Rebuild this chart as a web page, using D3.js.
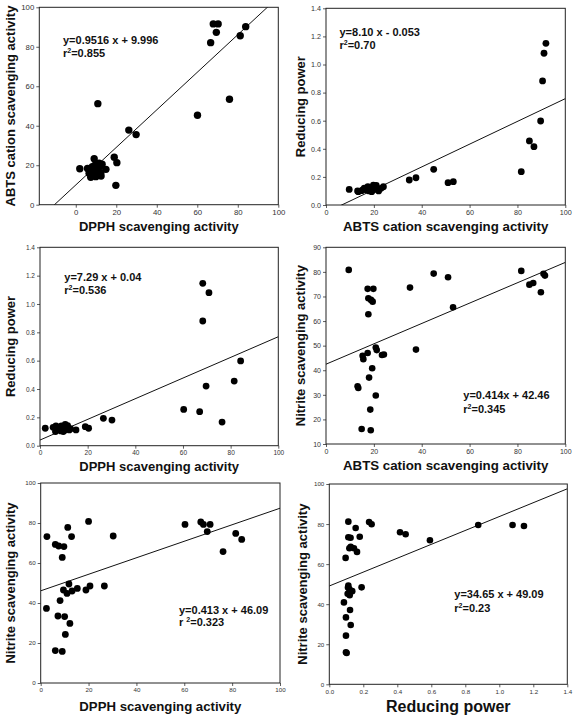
<!DOCTYPE html>
<html>
<head>
<meta charset="utf-8">
<script src="https://cdn.jsdelivr.net/npm/d3@7"></script>
<style>
  body { margin: 0; background: #fff; }
  svg { display: block; }
</style>
</head>
<body>
<svg id="chart" width="580" height="716"></svg>
<script>
// ---------------- DATA ----------------
// Panel 1: DPPH (x) vs ABTS cation scavenging (y)
const dpphVsAbts = [
  [2.0,18.2],[10.9,51.2],[26.2,37.8],[29.8,35.5],[19.0,24.0],[20.3,21.3],[19.8,9.8],
  [9.1,23.3],[6.6,15.9],[7.4,13.9],[9.9,14.2],[11.5,21.0],[12.4,16.2],[14.9,17.9],
  [8.2,19.3],[5.8,18.4],[10.5,18.5],[12.0,19.5],[8.0,17.0],[11.0,16.5],[13.0,20.5],
  [9.5,20.0],[7.0,18.0],[12.5,14.5],[10.0,15.5],
  [60.1,45.3],[75.9,53.4],[66.6,82.1],[67.9,91.6],[70.3,91.6],[69.4,87.3],[81.2,85.6],[83.9,90.2]
];
// Panel 2: ABTS (x) vs Reducing power (y)
const abtsVsRp = [
  [9.7,0.111],[13.5,0.095],[14.9,0.102],[17.0,0.107],[18.4,0.119],[19.8,0.142],[19.1,0.095],
  [21.2,0.111],[23.0,0.119],[24.0,0.13],[20.5,0.13],[16.0,0.12],[18.0,0.10],[20.0,0.12],
  [22.0,0.10],[17.5,0.13],[19.5,0.11],[21.0,0.14],[15.5,0.11],[13.2,0.10],
  [34.8,0.178],[37.6,0.194],[45.0,0.254],[51.0,0.159],[53.2,0.166],
  [81.6,0.237],[85.0,0.456],[86.9,0.415],[89.7,0.598],[90.5,0.883],[91.1,1.080],[91.9,1.151]
];
// Panel 3: DPPH (x) vs Reducing power (y)
const dpphVsRp = [
  [2.2,0.123],[6.7,0.139],[8.1,0.111],[9.5,0.123],[10.6,0.151],[11.6,0.141],[12.3,0.111],
  [8.8,0.104],[15.1,0.111],[19.0,0.134],[20.4,0.123],[5.5,0.13],[7.5,0.12],[9.0,0.14],
  [10.5,0.11],[11.0,0.13],[12.8,0.12],[6.5,0.10],[9.8,0.10],
  [26.6,0.193],[30.2,0.181],[60.3,0.256],[67.0,0.240],[76.4,0.167],[69.7,0.421],
  [81.5,0.456],[84.2,0.598],[68.3,0.880],[70.9,1.080],[68.3,1.146]
];
// Panel 4: ABTS (x) vs Nitrite scavenging (y)
const abtsVsNitrite = [
  [9.5,80.8],[17.4,73.1],[19.8,73.1],[17.7,69.3],[18.8,68.6],[19.5,67.9],[17.7,62.8],
  [35.1,73.6],[45.0,79.3],[51.0,77.8],[53.1,65.6],[81.6,80.4],[85.0,74.8],[86.6,75.5],
  [89.8,71.7],[90.9,79.2],[91.5,78.5],[37.6,48.4],[20.8,49.2],[21.2,48.2],[23.4,46.2],
  [24.2,46.4],[17.4,47.0],[15.3,45.9],[15.6,44.5],[19.3,40.8],[18.0,37.0],[13.2,33.5],
  [13.5,32.8],[20.8,29.7],[18.5,24.0],[14.9,16.1],[18.7,15.6]
];
// Panel 5: DPPH (x) vs Nitrite scavenging (y)
const dpphVsNitrite = [
  [2.6,73.2],[2.4,37.3],[6.1,69.3],[7.5,68.5],[9.7,68.2],[9.0,62.8],[11.3,77.8],[12.9,73.2],
  [20.0,80.8],[30.3,73.5],[60.3,79.3],[66.9,80.5],[68.0,79.3],[69.6,75.7],[70.8,79.3],
  [76.2,65.7],[81.5,74.8],[84.0,71.8],[11.8,49.5],[9.5,46.5],[11.0,44.8],[13.1,46.0],
  [15.3,47.3],[18.9,46.5],[20.6,48.5],[26.6,48.5],[8.1,41.2],[7.2,33.5],[10.0,33.2],
  [12.2,29.8],[10.3,24.3],[6.1,16.2],[9.0,15.8]
];
// Panel 6: Reducing power (x) vs Nitrite scavenging (y)
const rpVsNitrite = [
  [0.112,81.2],[0.155,78.0],[0.234,81.0],[0.249,79.9],[0.112,73.4],[0.125,73.2],[0.179,73.7],
  [0.126,68.7],[0.145,67.9],[0.118,67.9],[0.163,66.1],[0.096,63.1],[0.416,75.9],[0.449,74.9],
  [0.592,71.9],[0.876,79.5],[1.078,79.5],[1.145,79.0],[0.19,48.4],[0.112,49.3],[0.118,47.5],
  [0.125,46.2],[0.108,45.2],[0.12,44.5],[0.135,46.5],[0.11,48.3],[0.086,40.9],[0.122,37.1],
  [0.098,33.4],[0.126,29.6],[0.098,24.3],[0.098,16.0],[0.102,15.6]
];

// Regression coefficients [slope, intercept] in axis units
const fits = [
  [0.9516, 9.996],
  [0.0081, -0.053],
  [0.00729, 0.04],
  [0.414, 42.46],
  [0.413, 46.09],
  [34.65, 49.09]
];
// Equation labels: [line1, r-prefix, r2 value]
const equations = [
  ["y=0.9516 x + 9.996", "r", "=0.855"],
  ["y=8.10 x - 0.053", "r", "=0.70"],
  ["y=7.29 x + 0.04", "r", "=0.536"],
  ["y=0.414x + 42.46", "r", "=0.345"],
  ["y=0.413 x + 46.09", "r ", "=0.323"],
  ["y=34.65 x + 49.09", "r", "=0.23"]
];

// Tick values
const ticks0to100 = [0, 20, 40, 60, 80, 100];
const ticksRp = [0, 0.2, 0.4, 0.6, 0.8, 1.0, 1.2, 1.4];
const ticksNitrite4 = [10, 20, 30, 40, 50, 60, 70, 80, 90];

// Axis titles
const xTitles = ["DPPH scavenging activity", "ABTS cation scavenging activity", "DPPH scavenging activity",
                 "ABTS cation scavenging activity", "DPPH scavenging activity", "Reducing power"];
const yTitles = ["ABTS cation scavenging activity", "Reducing power", "Reducing power",
                 "Nitrite scavenging activity", "Nitrite scavenging activity", "Nitrite scavenging activity"];

// ---------------- LAYOUT ----------------
const layout = [
  { box:[39.3,278.3,7.3,204.7],  xd:[-18,100], yd:[0,100], xt:ticks0to100, yt:ticks0to100, xf:d3.format("d"), yf:d3.format("d"),
    tick:7.8, r:3.7, xtSize:13, xtY:231, ytX:15, eq:[63,44.3,12.4] },
  { box:[326,565.3,8.3,205],     xd:[0,100], yd:[0,1.4], xt:ticks0to100, yt:ticksRp, xf:d3.format("d"), yf:d3.format(".1f"),
    tick:7.2, r:3.4, xtSize:13.3, xtY:231, ytX:305, eq:[339.5,35.7,13.3] },
  { box:[40,278.3,247.3,445.7],  xd:[0,100], yd:[0,1.4], xt:ticks0to100, yt:ticksRp, xf:d3.format("d"), yf:d3.format(".1f"),
    tick:6.5, r:3.4, xtSize:13, xtY:471, ytX:15, eq:[64.3,281,13] },
  { box:[326,565.3,247.3,444],   xd:[0,100], yd:[10,90], xt:ticks0to100, yt:ticksNitrite4, xf:d3.format("d"), yf:d3.format("d"),
    tick:7, r:3.3, xtSize:13.3, xtY:470, ytX:305, eq:[463.3,399.3,13.4] },
  { box:[40.7,280,483,683],      xd:[0,100], yd:[0,100], xt:ticks0to100, yt:ticks0to100, xf:d3.format("d"), yf:d3.format("d"),
    tick:6.2, r:3.4, xtSize:13.2, xtY:711, ytX:15, eq:[179,614.3,11.4] },
  { box:[329.3,567.3,484,684.3], xd:[0,1.4], yd:[0,100], xt:ticksRp, yt:ticks0to100, xf:d3.format(".1f"), yf:d3.format("d"),
    tick:6.2, r:3.3, xtSize:16, xtY:712, ytX:307, eq:[454.3,598.3,13.4] }
];
const datasets = [dpphVsAbts, abtsVsRp, dpphVsRp, abtsVsNitrite, dpphVsNitrite, rpVsNitrite];

// ---------------- DRAW ----------------
const svg = d3.select("#chart");
const FONT = "'Liberation Sans', Arial, Helvetica, sans-serif";

layout.forEach((L, i) => {
  const [x0, x1, y0, y1] = L.box;
  const x = d3.scaleLinear().domain(L.xd).range([x0, x1]);
  const y = d3.scaleLinear().domain(L.yd).range([y1, y0]);
  const g = svg.append("g");

  const clipId = "clip" + i;
  svg.append("clipPath").attr("id", clipId)
    .append("rect").attr("x", x0).attr("y", y0).attr("width", x1 - x0).attr("height", y1 - y0);

  // axes
  const xAxis = d3.axisBottom(x).tickValues(L.xt).tickFormat(L.xf).tickSize(3).tickPadding(2);
  const yAxis = d3.axisLeft(y).tickValues(L.yt).tickFormat(L.yf).tickSize(3).tickPadding(2);
  const gx = g.append("g").attr("transform", `translate(0,${y1})`).call(xAxis);
  const gy = g.append("g").attr("transform", `translate(${x0},0)`).call(yAxis);
  [gx, gy].forEach(a => {
    a.select(".domain").remove();
    a.selectAll(".tick line").attr("stroke", "#333").attr("stroke-width", 0.8);
    a.selectAll(".tick text").attr("fill", "#333").style("font-family", FONT).style("font-size", L.tick + "px");
  });

  // frame
  g.append("rect").attr("x", x0).attr("y", y0).attr("width", x1 - x0).attr("height", y1 - y0)
    .attr("fill", "none").attr("stroke", "#222").attr("stroke-width", 1);

  // regression line
  const [m, b] = fits[i];
  g.append("line").attr("clip-path", `url(#${clipId})`)
    .attr("x1", x(L.xd[0])).attr("y1", y(m * L.xd[0] + b))
    .attr("x2", x(L.xd[1])).attr("y2", y(m * L.xd[1] + b))
    .attr("stroke", "#111").attr("stroke-width", 1);

  // points
  g.append("g").selectAll("circle").data(datasets[i]).join("circle")
    .attr("cx", d => x(d[0])).attr("cy", d => y(d[1])).attr("r", L.r).attr("fill", "#000");

  // titles
  g.append("text").attr("x", (x0 + x1) / 2).attr("y", L.xtY).attr("text-anchor", "middle")
    .style("font-family", FONT).style("font-weight", "bold").style("font-size", L.xtSize + "px")
    .attr("fill", "#111").text(xTitles[i]);
  g.append("text").attr("transform", `translate(${L.ytX},${(y0 + y1) / 2}) rotate(-90)`)
    .attr("text-anchor", "middle")
    .style("font-family", FONT).style("font-weight", "bold").style("font-size", "13px")
    .attr("fill", "#111").text(yTitles[i]);

  // equation
  const [ex, ey, lh] = L.eq;
  const eq = equations[i];
  g.append("text").attr("x", ex).attr("y", ey)
    .style("font-family", FONT).style("font-weight", "bold").style("font-size", "11px")
    .attr("fill", "#111").text(eq[0]);
  const t2 = g.append("text").attr("x", ex).attr("y", ey + lh)
    .style("font-family", FONT).style("font-weight", "bold").style("font-size", "11px").attr("fill", "#111");
  t2.append("tspan").text(eq[1]);
  t2.append("tspan").attr("dy", -4).style("font-size", "7px").text("2");
  t2.append("tspan").attr("dy", 4).text(eq[2]);
});
</script>
</body>
</html>
